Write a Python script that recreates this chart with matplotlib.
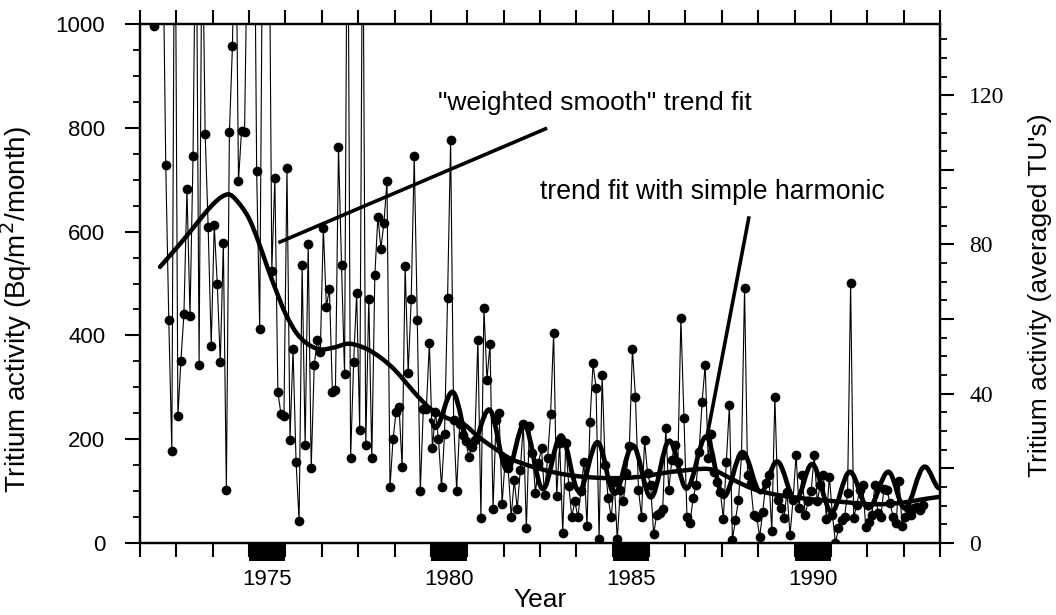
import numpy as np
import matplotlib
matplotlib.use('Agg')
import matplotlib.pyplot as plt
import matplotlib.transforms as mtransforms
from matplotlib.path import Path
from matplotlib.patches import PathPatch, Rectangle
from matplotlib.ticker import MultipleLocator, FuncFormatter

plt.rcParams['font.family'] = ['Liberation Sans', 'DejaVu Sans']

# monthly tritium deposition (Bq/m2/month), May 1972 .. Jul 1993
# values > 1000 run off the top of the plot
tritium_1972 = [997, 1350, 1500, 1200, 728, 430, 177, 1400]
tritium_1973 = [244, 351, 442, 682, 437, 746, 1300, 343, 1250, 789, 608, 380]
tritium_1974 = [612, 499, 348, 578, 102, 791, 957, 1300, 697, 794, 791, 1200]
tritium_1975 = [1300, 1450, 716, 413, 1250, 1100, 1350, 524, 704, 291, 249, 244]
tritium_1976 = [723, 198, 374, 157, 42, 536, 188, 577, 145, 343, 391, 368]
tritium_1977 = [607, 455, 490, 290, 294, 763, 536, 325, 1400, 163, 348, 482]
tritium_1978 = [217, 1300, 188, 471, 163, 516, 629, 567, 617, 697, 107, 200]
tritium_1979 = [252, 262, 146, 534, 328, 470, 746, 430, 101, 259, 259, 386]
tritium_1980 = [183, 252, 200, 108, 210, 473, 776, 237, 101, 230, 208, 197]
tritium_1981 = [166, 185, 198, 392, 48, 453, 315, 383, 66, 237, 250, 76]
tritium_1982 = [160, 144, 51, 121, 66, 141, 230, 28, 225, 174, 96, 154]
tritium_1983 = [183, 92, 164, 249, 405, 90, 193, 20, 192, 110, 51, 80]
tritium_1984 = [50, 100, 156, 33, 234, 346, 298, 7, 324, 150, 86, 50]
tritium_1985 = [118, 7, 102, 80, 134, 187, 373, 282, 102, 51, 198, 134]
tritium_1986 = [112, 17, 54, 57, 65, 221, 102, 160, 189, 157, 433, 240]
tritium_1987 = [51, 39, 86, 112, 176, 272, 343, 163, 210, 137, 118, 99]
tritium_1988 = [47, 157, 266, 6, 44, 83, 170, 491, 131, 115, 54, 51]
tritium_1989 = [12, 60, 115, 131, 23, 282, 83, 67, 49, 99, 15, 83]
tritium_1990 = [170, 67, 131, 54, 80, 100, 170, 80, 112, 131, 47, 128]
tritium_1991 = [54, 0, 28, 44, 50, 96, 501, 48, 73, 102, 112, 31]
tritium_1992 = [41, 54, 112, 58, 51, 105, 102, 77, 51, 38, 120, 33]
tritium_1993 = [51, 67, 54, 67, 70, 63, 73]
FIRST_MONTH = 1972 + 4 / 12     # May 1972

# "weighted smooth" trend
trend_year = [1972.55, 1972.9, 1973.3, 1973.7, 1974.0, 1974.25, 1974.48, 1974.75,
              1975.0, 1975.25, 1975.5, 1975.75, 1976.0, 1976.3, 1976.6, 1976.95,
              1977.35, 1977.75, 1978.2, 1978.6, 1979.0, 1979.35, 1979.7, 1980.0,
              1980.4, 1980.9, 1981.3, 1981.8, 1982.2, 1982.7, 1983.1, 1983.6,
              1984.0, 1984.5, 1985.0, 1985.5, 1986.0, 1986.5, 1987.0, 1987.5,
              1987.8, 1988.2, 1988.6, 1989.0, 1989.5, 1990.0, 1990.5, 1991.0,
              1991.5, 1992.0, 1992.5, 1993.0, 1993.5, 1994.0]
trend_value = [532, 560, 593, 628, 652, 667, 671, 652,
               625, 582, 532, 485, 442, 405, 384, 373,
               377, 384, 375, 358, 334, 306, 278, 258,
               242, 229, 205, 180, 162, 149, 141, 133,
               129, 126, 125, 126, 130, 136, 140, 143,
               140, 126, 112, 101, 93, 88, 84, 81,
               78, 75, 75, 78, 84, 89]

# trend fit with simple harmonic: turning points of the curve
harm_year = [1980.0, 1980.12, 1980.59, 1981.10, 1981.60, 1982.10, 1982.56, 1983.08,
             1983.58, 1984.07, 1984.58, 1985.05, 1985.55, 1986.05, 1986.56, 1987.03,
             1987.57, 1988.05, 1988.57, 1989.07, 1989.52, 1990.03, 1990.48, 1991.02,
             1991.52, 1992.03, 1992.58, 1993.03, 1993.58, 1994.0]
harm_value = [236, 222, 291, 183, 257, 140, 228, 104,
              207, 100, 194, 95, 188, 88, 197, 105,
              205, 89, 175, 98, 157, 82, 152, 60,
              137, 67, 137, 67, 147, 105]

bar_years = [1975, 1980, 1985, 1990]
label_years = ['1975', '1980', '1985', '1990']

activity = np.array(tritium_1972 + tritium_1973 + tritium_1974 + tritium_1975 +
                    tritium_1976 + tritium_1977 + tritium_1978 + tritium_1979 +
                    tritium_1980 + tritium_1981 + tritium_1982 + tritium_1983 +
                    tritium_1984 + tritium_1985 + tritium_1986 + tritium_1987 +
                    tritium_1988 + tritium_1989 + tritium_1990 + tritium_1991 +
                    tritium_1992 + tritium_1993, dtype=float)
dates = FIRST_MONTH + (np.arange(len(activity)) + 0.5) / 12

BQ_PER_TU = 7.19


def smooth_path(xs, ys):
    """Catmull-Rom curve through the points, as a bezier path"""
    pts = np.column_stack([xs, ys]).astype(float)
    verts = [pts[0]]
    codes = [Path.MOVETO]
    for i in range(len(pts) - 1):
        p0 = pts[max(i - 1, 0)]
        p1, p2 = pts[i], pts[i + 1]
        p3 = pts[min(i + 2, len(pts) - 1)]
        verts += [p1 + (p2 - p0) / 6, p2 - (p3 - p1) / 6, p2]
        codes += [Path.CURVE4] * 3
    return Path(verts, codes)


def wave_path(xs, ys):
    """flat tangents at each turning point (peak / trough)"""
    verts = [(xs[0], ys[0])]
    codes = [Path.MOVETO]
    for i in range(1, len(xs)):
        dx = xs[i] - xs[i - 1]
        verts += [(xs[i - 1] + 0.36 * dx, ys[i - 1]), (xs[i] - 0.36 * dx, ys[i]), (xs[i], ys[i])]
        codes += [Path.CURVE4] * 3
    return Path(verts, codes)


fig = plt.figure(figsize=(10.56, 6.15), dpi=100, facecolor='white')
ax = fig.add_axes([140 / 1056, 72 / 615, 800 / 1056, 519 / 615])

ax.plot(dates, activity, '-', color='black', lw=0.8, marker='o', ms=7,
        markeredgewidth=0, zorder=3)
ax.add_patch(PathPatch(smooth_path(trend_year, trend_value), fill=False,
                       ec='black', lw=3.2, zorder=4, capstyle='round'))
ax.add_patch(PathPatch(wave_path(harm_year, harm_value), fill=False,
                       ec='black', lw=3.4, zorder=4, capstyle='round'))

# pointer lines + labels
ax.plot([1975.85, 1983.15], [580, 798], color='black', lw=2.6, zorder=5)
ax.plot([1988.74, 1987.59], [626, 204], color='black', lw=2.6, zorder=5)
ax.text(1980.2, 848, '"weighted smooth" trend fit', ha='left', va='center',
        fontsize=19, color='black')
ax.text(1983.0, 676, 'trend fit with simple harmonic', ha='left', va='center',
        fontsize=19.2, color='black')

ax.set_xlim(1972, 1994)
ax.set_ylim(0, 1000)

for side in ['left', 'right', 'top', 'bottom']:
    ax.spines[side].set_linewidth(1.6)

# x: a tick every year, labels centred on the year
ax.set_xticks(np.arange(1972, 1995))
ax.set_xticklabels([])
ax.set_xticks([y + 0.5 for y in bar_years], labels=label_years, minor=True)
ax.xaxis.set_ticks_position('both')
ax.tick_params(axis='x', which='major', direction='out', length=10, width=1.5)
ax.tick_params(axis='x', which='minor', length=0, pad=19, labelsize=16)
ax.set_xlabel('Year', fontsize=19, labelpad=-2)

# black bars under the axis
trans = mtransforms.blended_transform_factory(ax.transData, ax.transAxes)
for yr in bar_years:
    ax.add_patch(Rectangle((yr, -0.034), 1, 0.034, transform=trans,
                           clip_on=False, color='black', lw=0))

ax.yaxis.set_major_locator(MultipleLocator(200))
ax.yaxis.set_minor_locator(MultipleLocator(50))
ax.tick_params(axis='y', which='major', direction='out', length=11, width=1.5,
               labelsize=16, pad=14)
ax.tick_params(axis='y', which='minor', direction='out', length=5, width=1.3)
ax.set_ylabel('Tritium activity (Bq/m$^2$/month)', fontsize=20)
ax.yaxis.set_label_coords(-0.132, 0.45)

ax2 = ax.twinx()
ax2.set_ylim(0, 1000 / BQ_PER_TU)
ax2.yaxis.set_major_locator(MultipleLocator(20))
ax2.yaxis.set_minor_locator(MultipleLocator(5))
ax2.yaxis.set_major_formatter(FuncFormatter(lambda v, p: f'{v:.0f}' if v % 40 == 0 else ''))
ax2.tick_params(axis='y', which='major', direction='out', length=10, width=1.5,
                labelsize=17, pad=11, labelfontfamily='Liberation Serif')
ax2.tick_params(axis='y', which='minor', direction='out', length=5, width=1.3)
for side in ['left', 'right', 'top', 'bottom']:
    ax2.spines[side].set_linewidth(1.6)
ax2.set_ylabel("Tritium activity (averaged TU's)", fontsize=19)
ax2.yaxis.set_label_coords(1.11, 0.478)

fig.savefig('out.png', dpi=100, facecolor='white')
